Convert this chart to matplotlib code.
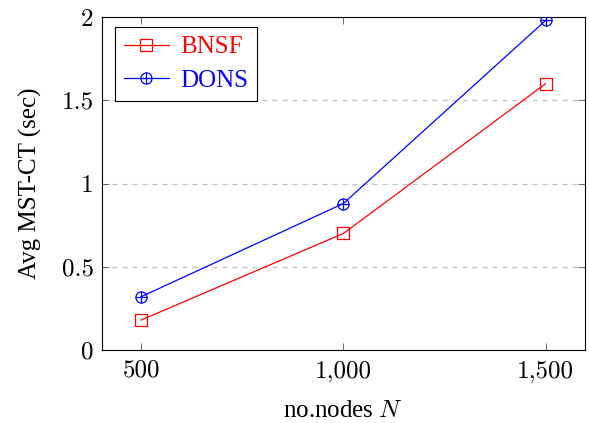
import matplotlib
matplotlib.use("Agg")
import matplotlib.pyplot as plt
from matplotlib.lines import Line2D

plt.rcParams['font.family'] = ['Liberation Serif', 'DejaVu Serif']
plt.rcParams['mathtext.fontset'] = 'cm'

nodes = [500, 1000, 1500]
bnsf = [0.18, 0.70, 1.60]
dons = [0.32, 0.88, 1.98]
xticks = [500, 1000, 1500]
yticks = [0, 0.5, 1, 1.5, 2]
ytick_labels = ['0', '0.5', '1', '1.5', '2']

FS = 18
MS = 8

fig = plt.figure(figsize=(5.89, 4.23), dpi=100)
ax = fig.add_axes([0.173, 0.1726, 0.82, 0.787])

ax.plot(nodes, bnsf, color='red', lw=0.9, marker='s', ms=MS, mfc='none', mec='red', mew=0.9, zorder=3)
ax.plot(nodes, dons, color='blue', lw=0.9, marker='o', ms=MS, mfc='none', mec='blue', mew=0.9, zorder=3)
ax.plot(nodes, dons, color='blue', lw=0, marker='+', ms=MS, mec='blue', mew=0.9, zorder=3)

ax.set_xlim(403, 1597)
ax.set_ylim(0, 2)
ax.set_xticks(xticks)
ax.set_xticklabels([f"{v:,}" for v in xticks], fontfamily='cmr10')
ax.set_yticks(yticks)
ax.set_yticklabels(ytick_labels, fontfamily='cmr10')
for y in [0.5, 1, 1.5]:
    ax.axhline(y, color='#c0c0c0', lw=0.9, ls=(0, (4, 4)), zorder=1)

ax.tick_params(direction='in', top=True, right=True, labelsize=FS, length=5, width=0.6, color='#555555')
ax.tick_params(axis='x', pad=7)
ax.tick_params(axis='y', pad=6)
for s in ax.spines.values():
    s.set_linewidth(0.8)

ax.set_xlabel(r'no.nodes $N$', fontsize=FS, labelpad=13)
ax.set_ylabel('Avg MST-CT (sec)', fontsize=FS, labelpad=14)

h1 = Line2D([], [], color='red', lw=0.9, marker='s', ms=MS, mfc='none', mec='red', mew=0.9)
h2a = Line2D([], [], color='blue', lw=0.9, marker='o', ms=MS, mfc='none', mec='blue', mew=0.9)
h2b = Line2D([], [], color='blue', lw=0, marker='+', ms=MS, mec='blue', mew=0.9)
leg = ax.legend([h1, (h2a, h2b)], ['BNSF', 'DONS'], loc='upper left', fontsize=FS,
                fancybox=False, edgecolor='black', framealpha=1, borderpad=0.35,
                handlelength=1.8, handletextpad=0.45, bbox_to_anchor=(0.027, 0.97), labelspacing=0.45,
                borderaxespad=0)
leg.get_frame().set_linewidth(0.8)
for t, c in zip(leg.get_texts(), ['red', 'blue']):
    t.set_color(c)

fig.savefig('out.png', dpi=100)
